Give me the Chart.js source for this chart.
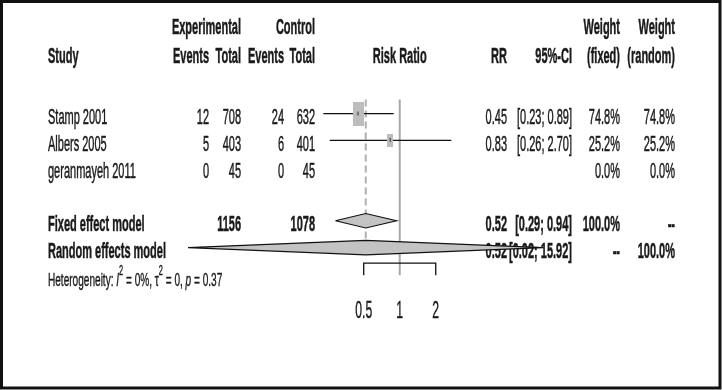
<!DOCTYPE html>
<html>
<head>
<meta charset="utf-8">
<script src="https://cdn.jsdelivr.net/npm/chart.js@4.4.0/dist/chart.umd.min.js"></script>
<style>
  html, body { margin: 0; padding: 0; background: #fff; }
  canvas { display: block; }
</style>
</head>
<body>
<canvas id="forest" width="722" height="390"></canvas>
<script>
// study data
const studies = ['Stamp 2001', 'Albers 2005', 'geranmayeh 2011'];
const expEvents = [12, 5, 0];
const expTotal = [708, 403, 45];
const ctrlEvents = [24, 6, 0];
const ctrlTotal = [632, 401, 45];
const studyRR = [0.45, 0.83, null];
const studyLow = [0.23, 0.26, null];
const studyHigh = [0.89, 2.70, null];
const weightFixed = [74.8, 25.2, 0.0];
const weightRandom = [74.8, 25.2, 0.0];

// pooled estimates
const modelNames = ['Fixed effect model', 'Random effects model'];
const modelRR = [0.52, 0.52];
const modelLow = [0.29, 0.017];
const modelHigh = [0.94, 15.92];

// axis + heterogeneity
const axisTicks = [0.5, 1, 2];
const hetI2 = 0, hetTau2 = 0, hetP = 0.37;

// layout (pixels)
const ROW0 = 110.5, ROWH = 27.8;       // y of first study row, row height
const X1 = 400.5, DEC = 122;           // x of RR=1, px per decade
const FS = 22, SX = 0.5;               // narrow font squeeze
const FONT = '"Liberation Sans", Arial, sans-serif';
const COL = { study: 48, expEv: 209, expTot: 241, ctlEv: 284, ctlTot: 315, rr: 507, ci: 572, wf: 620, wr: 675 };
const studyRows = studies.map((s, i) => i);
const modelRows = [4, 5];
const hetRow = 6;
const axisRow = 5.58, tickRow = 6.03, refTop = -0.52, dashEnd = 4.77, dHalf = 0.27;

// box images sized by weight
function makeBox(w) {
    const bw = Math.max(3, Math.round(12.7 * Math.sqrt(w / 100)));
    const bh = Math.round(bw * 2.15);
    const c = document.createElement('canvas');
    c.width = bw; c.height = bh;
    const g = c.getContext('2d');
    g.fillStyle = '#bdbdbd';
    g.fillRect(0, 0, bw, bh);
    g.fillStyle = '#555';
    g.fillRect(Math.floor(bw / 2) - 0.5, Math.floor(bh / 2) - 2, 1.5, 4);
    return c;
}

function txt(ctx, s, x, y, align, bold, size) {
    ctx.save();
    ctx.font = (bold ? 'bold ' : '') + size + 'px ' + FONT;
    ctx.textAlign = align;
    ctx.textBaseline = 'alphabetic';
    ctx.fillStyle = '#1a1a1a';
    ctx.strokeStyle = '#1a1a1a';
    ctx.lineWidth = 0.5;
    ctx.translate(x, y);
    ctx.scale(SX, 1);
    ctx.fillText(s, 0, 0);
    ctx.strokeText(s, 0, 0);
    ctx.restore();
}

function runs(ctx, parts, x, y, size, sx) {
    let cx = x;
    parts.forEach(p => {
        const fs = p.sup ? Math.round(size * 0.72) : size;
        ctx.save();
        ctx.font = (p.it ? 'italic ' : '') + fs + 'px ' + FONT;
        ctx.textBaseline = 'alphabetic';
        ctx.fillStyle = '#1a1a1a';
        ctx.strokeStyle = '#1a1a1a';
        ctx.lineWidth = 0.4;
        ctx.translate(cx, y - (p.sup ? size * 0.55 : 0));
        ctx.scale(sx, 1);
        ctx.fillText(p.t, 0, 0);
        ctx.strokeText(p.t, 0, 0);
        cx += ctx.measureText(p.t).width * sx;
        ctx.restore();
    });
}

const fmt2 = v => v.toFixed(2);
const ci = (lo, hi) => `[${fmt2(lo)}; ${fmt2(hi)}]`;

const textPlugin = {
    id: 'forestText',
    beforeDatasetsDraw(chart) {
        const ctx = chart.ctx;
        const xs = chart.scales.x, ys = chart.scales.y;
        const base = r => ys.getPixelForValue(r) + 10.5;
        // header
        const h1 = 34, h2 = 63;
        txt(ctx, 'Study', COL.study, h2, 'left', true, FS);
        txt(ctx, 'Experimental', COL.expTot, h1, 'right', true, FS);
        txt(ctx, 'Events', COL.expEv, h2, 'right', true, FS);
        txt(ctx, 'Total', COL.expTot, h2, 'right', true, FS);
        txt(ctx, 'Control', COL.ctlTot, h1, 'right', true, FS);
        txt(ctx, 'Events', COL.ctlEv, h2, 'right', true, FS);
        txt(ctx, 'Total', COL.ctlTot, h2, 'right', true, FS);
        txt(ctx, 'Risk Ratio', xs.getPixelForValue(1), h2, 'center', true, FS);
        txt(ctx, 'RR', COL.rr, h2, 'right', true, FS);
        txt(ctx, '95%-CI', COL.ci, h2, 'right', true, FS);
        txt(ctx, 'Weight', COL.wf, h1, 'right', true, FS);
        txt(ctx, '(fixed)', COL.wf, h2, 'right', true, FS);
        txt(ctx, 'Weight', COL.wr, h1, 'right', true, FS);
        txt(ctx, '(random)', COL.wr, h2, 'right', true, FS);

        // study rows
        studies.forEach((s, i) => {
            const y = base(studyRows[i]);
            txt(ctx, s, COL.study, y, 'left', false, FS);
            txt(ctx, String(expEvents[i]), COL.expEv, y, 'right', false, FS);
            txt(ctx, String(expTotal[i]), COL.expTot, y, 'right', false, FS);
            txt(ctx, String(ctrlEvents[i]), COL.ctlEv, y, 'right', false, FS);
            txt(ctx, String(ctrlTotal[i]), COL.ctlTot, y, 'right', false, FS);
            if (studyRR[i] != null) {
                txt(ctx, fmt2(studyRR[i]), COL.rr, y, 'right', false, FS);
                txt(ctx, ci(studyLow[i], studyHigh[i]), COL.ci, y, 'right', false, FS);
            }
            txt(ctx, weightFixed[i].toFixed(1) + '%', COL.wf, y, 'right', false, FS);
            txt(ctx, weightRandom[i].toFixed(1) + '%', COL.wr, y, 'right', false, FS);
        });

        // pooled rows
        const sumW = a => a.reduce((p, c) => p + c, 0);
        modelNames.forEach((m, k) => {
            const y = base(modelRows[k]);
            txt(ctx, m, COL.study, y, 'left', true, FS);
            if (k === 0) {
                txt(ctx, String(sumW(expTotal)), COL.expTot, y, 'right', true, FS);
                txt(ctx, String(sumW(ctrlTotal)), COL.ctlTot, y, 'right', true, FS);
            }
            txt(ctx, fmt2(modelRR[k]), COL.rr, y, 'right', true, FS);
            txt(ctx, ci(modelLow[k], modelHigh[k]), COL.ci, y, 'right', true, FS);
            txt(ctx, k === 0 ? sumW(weightFixed).toFixed(1) + '%' : '--', COL.wf, y, 'right', true, FS);
            txt(ctx, k === 1 ? sumW(weightRandom).toFixed(1) + '%' : '--', COL.wr, y, 'right', true, FS);
        });

        // heterogeneity
        runs(ctx, [
            { t: 'Heterogeneity: ' }, { t: 'I', it: true }, { t: '2', sup: true },
            { t: ' = ' + hetI2 + '%, ' }, { t: 'τ' }, { t: '2', sup: true },
            { t: ' = ' + hetTau2 + ', ' }, { t: 'p', it: true }, { t: ' = ' + hetP }
        ], COL.study, base(hetRow) + 1, 19, 0.53);

        // axis tick labels
        const ty = ys.getPixelForValue(axisRow) + 55;
        axisTicks.forEach(t => {
            ctx.save();
            ctx.font = '23px ' + FONT;
            ctx.textAlign = 'center';
            ctx.fillStyle = '#1a1a1a';
            ctx.strokeStyle = '#1a1a1a';
            ctx.lineWidth = 0.4;
            ctx.translate(xs.getPixelForValue(t), ty);
            ctx.scale(0.53, 1);
            ctx.fillText(String(t), 0, 0);
            ctx.strokeText(String(t), 0, 0);
            ctx.restore();
        });
    },
    afterDraw(chart) {
        const ctx = chart.ctx;
        ctx.save();
        ctx.lineWidth = 3;
        ctx.strokeStyle = '#111';
        ctx.strokeRect(1.5, 1.5, 718.5, 386.5);
        ctx.restore();
    }
};

const lineDs = (data, color, width, order, extra) => Object.assign({
    data, showLine: true, borderColor: color, borderWidth: width,
    pointRadius: 0, fill: false, tension: 0, order
}, extra || {});

const ciLines = studyRR.map((r, i) => r == null ? null :
    lineDs([{ x: studyLow[i], y: studyRows[i] }, { x: studyHigh[i], y: studyRows[i] }], '#111', 1.3, 3)
).filter(Boolean);

const boxIdx = studyRR.map((r, i) => i).filter(i => studyRR[i] != null);
const boxDs = {
    data: boxIdx.map(i => ({ x: studyRR[i], y: studyRows[i] })),
    showLine: false,
    pointStyle: boxIdx.map(i => makeBox(weightFixed[i])),
    pointRadius: 6,
    order: 1
};

const diamonds = modelRR.map((r, k) => {
    const row = modelRows[k];
    return lineDs([
        { x: modelLow[k], y: row }, { x: r, y: row - dHalf },
        { x: modelHigh[k], y: row }, { x: r, y: row + dHalf },
        { x: modelLow[k], y: row }
    ], '#111', 1.2, 0, { fill: 'shape', backgroundColor: '#c3c3c3' });
});

const bracket = lineDs([
    { x: axisTicks[0], y: tickRow }, { x: axisTicks[0], y: axisRow },
    { x: axisTicks[axisTicks.length - 1], y: axisRow },
    { x: axisTicks[axisTicks.length - 1], y: tickRow }
], '#111', 1.3, 2);

const refSolid = lineDs([{ x: 1, y: refTop }, { x: 1, y: tickRow }], '#a8a8a8', 2, 5);
const refDash = lineDs([{ x: modelRR[0], y: refTop }, { x: modelRR[0], y: dashEnd }], '#b0b0b0', 2, 5, { borderDash: [7, 4] });

new Chart(document.getElementById('forest'), {
    type: 'scatter',
    data: { datasets: [refSolid, refDash, ...ciLines, boxDs, ...diamonds, bracket] },
    options: {
        responsive: false,
        animation: false,
        events: [],
        layout: { padding: 0 },
        plugins: { legend: { display: false }, tooltip: { enabled: false } },
        scales: {
            x: {
                type: 'logarithmic', display: false, bounds: 'data',
                min: Math.pow(10, -X1 / DEC),
                max: Math.pow(10, (722 - X1) / DEC)
            },
            y: {
                type: 'linear', display: false, reverse: true, bounds: 'data',
                min: -ROW0 / ROWH,
                max: (390 - ROW0) / ROWH
            }
        }
    },
    plugins: [textPlugin]
});
</script>
</body>
</html>
